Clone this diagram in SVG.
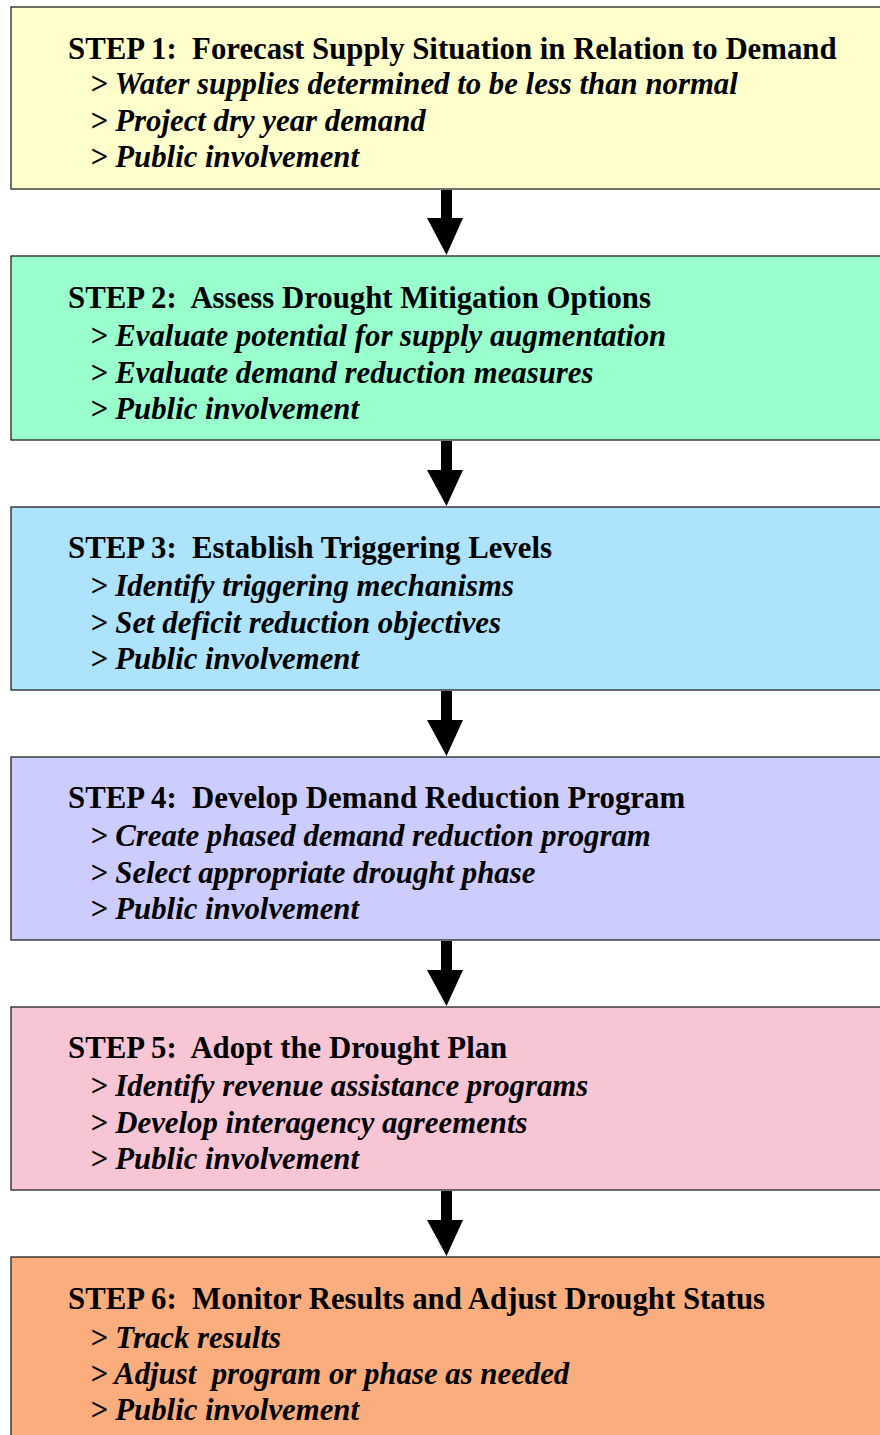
<svg xmlns="http://www.w3.org/2000/svg" width="880" height="1435" viewBox="0 0 880 1435">
<style>
.box{stroke:#222;stroke-width:1.3}
.t{font-family:"Liberation Serif","Times New Roman",serif;font-size:30.8px;font-weight:bold;fill:#000;white-space:pre}
.i{font-style:italic}
.arrow{fill:#000}
</style>
<rect width="880" height="1435" fill="#fff"/>
<g id="step1">
<rect class="box" x="11" y="7" width="880" height="182" fill="#FFFFCC"/>
<text class="t" x="68" y="59" xml:space="preserve">STEP 1:  Forecast Supply Situation in Relation to Demand</text>
<text class="t i" x="90" y="94">&gt; Water supplies determined to be less than normal</text>
<text class="t i" x="90" y="131">&gt; Project dry year demand</text>
<text class="t i" x="90" y="167">&gt; Public involvement</text>
</g>
<g id="step2">
<rect class="box" x="11" y="256" width="880" height="184" fill="#99FFCC"/>
<text class="t" x="68" y="308" xml:space="preserve">STEP 2:  Assess Drought Mitigation Options</text>
<text class="t i" x="90" y="346">&gt; Evaluate potential for supply augmentation</text>
<text class="t i" x="90" y="383">&gt; Evaluate demand reduction measures</text>
<text class="t i" x="90" y="419">&gt; Public involvement</text>
</g>
<g id="step3">
<rect class="box" x="11" y="507" width="880" height="183" fill="#ADE3FD"/>
<text class="t" x="68" y="558" xml:space="preserve">STEP 3:  Establish Triggering Levels</text>
<text class="t i" x="90" y="596">&gt; Identify triggering mechanisms</text>
<text class="t i" x="90" y="633">&gt; Set deficit reduction objectives</text>
<text class="t i" x="90" y="669">&gt; Public involvement</text>
</g>
<g id="step4">
<rect class="box" x="11" y="757" width="880" height="183" fill="#CCCCFF"/>
<text class="t" x="68" y="808" xml:space="preserve">STEP 4:  Develop Demand Reduction Program</text>
<text class="t i" x="90" y="846">&gt; Create phased demand reduction program</text>
<text class="t i" x="90" y="883">&gt; Select appropriate drought phase</text>
<text class="t i" x="90" y="919">&gt; Public involvement</text>
</g>
<g id="step5">
<rect class="box" x="11" y="1007" width="880" height="183" fill="#F8C5D5"/>
<text class="t" x="68" y="1058" xml:space="preserve">STEP 5:  Adopt the Drought Plan</text>
<text class="t i" x="90" y="1096">&gt; Identify revenue assistance programs</text>
<text class="t i" x="90" y="1133">&gt; Develop interagency agreements</text>
<text class="t i" x="90" y="1169">&gt; Public involvement</text>
</g>
<g id="step6">
<rect class="box" x="11" y="1257" width="880" height="200" fill="#FBAD7D"/>
<text class="t" x="68" y="1309" xml:space="preserve">STEP 6:  Monitor Results and Adjust Drought Status</text>
<text class="t i" x="90" y="1348">&gt; Track results</text>
<text class="t i" x="90" y="1384" xml:space="preserve">&gt; Adjust  program or phase as needed</text>
<text class="t i" x="90" y="1420">&gt; Public involvement</text>
</g>
<g id="connectors">
<path class="arrow" d="M441 190H452V218H463L446.5 255L427 218H441Z"/>
<path class="arrow" d="M441 441H452V470H463L446.5 506L427 470H441Z"/>
<path class="arrow" d="M441 691H452V720H463L446.5 756L427 720H441Z"/>
<path class="arrow" d="M441 941H452V970H463L446.5 1006L427 970H441Z"/>
<path class="arrow" d="M441 1191H452V1220H463L446.5 1256L427 1220H441Z"/>
</g>
</svg>
